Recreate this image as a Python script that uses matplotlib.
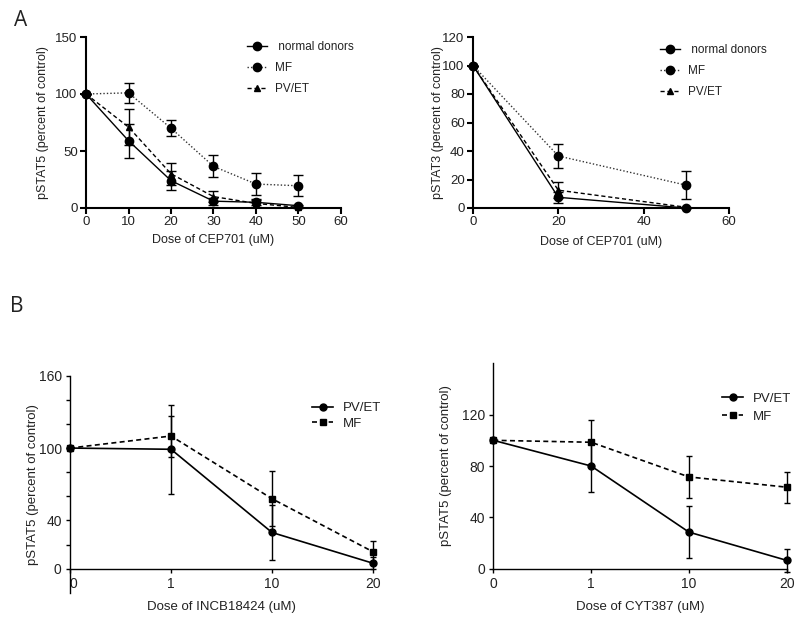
import matplotlib.pyplot as plt
from matplotlib.lines import Line2D
from matplotlib.ticker import FixedLocator

plt.rcParams['font.family'] = ['Liberation Sans', 'DejaVu Sans']

# Panel A, left: pSTAT5 vs CEP701
cep_dose_a1 = [0, 10, 20, 30, 40, 50]
nd_stat5 = [100, 59, 24, 6, 5, 2]
nd_stat5_err = [0, 15, 8.5, 3, 2.5, 1]
mf_stat5 = [100, 101, 70, 36.5, 21, 19.5]
mf_stat5_err = [0, 9, 7, 9.7, 10, 9.3]
pv_stat5 = [100, 71, 30, 10, 4, 0.5]
pv_stat5_err = [0, 16, 9.5, 5, 3, 0.5]

# Panel A, right: pSTAT3 vs CEP701
cep_dose_a2 = [0, 20, 50]
nd_stat3 = [100, 7.5, 0]
nd_stat3_err = [0, 4, 0]
mf_stat3 = [100, 36.5, 16]
mf_stat3_err = [0, 8.7, 10]
pv_stat3 = [100, 12.5, 0.5]
pv_stat3_err = [0, 5.5, 0.5]

# Panel B: categorical doses
dose_labels = ['0', '1', '10', '20']
incb_pv = [100, 99, 30, 4.5]
incb_pv_err = [0, 37, 22.5, 5]
incb_mf = [100, 110, 58, 14]
incb_mf_err = [0, 17, 23, 9]
cyt_pv = [100, 80, 28.5, 6.5]
cyt_pv_err = [0, 20, 20, 9]
cyt_mf = [100, 98.5, 71.5, 63.5]
cyt_mf_err = [0, 17.5, 16.5, 12]

fig = plt.figure(figsize=(8, 6.19), dpi=100)
txt = '#222222'
dotted = (0, (1, 1.5))
dashed = (0, (3, 2))


def fig_anchor(x, y):
    return (x / 800, 1 - y / 619)


def style_prism(ax):
    for s in ['top', 'right']:
        ax.spines[s].set_visible(False)
    for s in ['left', 'bottom']:
        ax.spines[s].set_linewidth(1.5)
    ax.tick_params(direction='out', length=4, width=1.5, labelsize=9.5, colors='black', labelcolor=txt, pad=2)


def draw_cep(ax, x, nd, nd_e, mf, mf_e, pv, pv_e):
    ax.errorbar(x, nd, yerr=nd_e, color='black', lw=1, marker='o', ms=6, capsize=3.5,
                elinewidth=1, clip_on=False, zorder=3)
    ax.errorbar(x, mf, yerr=mf_e, color='#333333', lw=1, ls=dotted, marker='o', ms=6,
                mfc='black', mec='black', ecolor='black', capsize=3.5, elinewidth=1,
                clip_on=False, zorder=3)
    ax.errorbar(x, pv, yerr=pv_e, color='black', lw=1, ls=dashed, marker='^', ms=5,
                capsize=3.5, elinewidth=1, clip_on=False, zorder=3)


def cep_legend(ax, x, y):
    handles = [
        Line2D([], [], color='black', lw=1, marker='o', ms=6),
        Line2D([], [], color='#333333', lw=1, ls=dotted, marker='o', ms=6, mfc='black', mec='black'),
        Line2D([], [], color='black', lw=1, ls=dashed, marker='^', ms=5),
    ]
    ax.legend(handles, [' normal donors', 'MF', 'PV/ET'], loc='upper left',
              bbox_to_anchor=fig_anchor(x, y), bbox_transform=fig.transFigure,
              frameon=False, fontsize=8.5, handlelength=1.7, labelspacing=0.75,
              handletextpad=0.7, borderpad=0, borderaxespad=0, labelcolor=txt)


# ---- A left
ax1 = fig.add_axes([86 / 800, 1 - 208 / 619, 255 / 800, 171 / 619])
draw_cep(ax1, cep_dose_a1, nd_stat5, nd_stat5_err, mf_stat5, mf_stat5_err, pv_stat5, pv_stat5_err)
ax1.set_xlim(0, 60)
ax1.set_ylim(0, 150)
ax1.set_xticks(range(0, 61, 10))
ax1.set_yticks([0, 50, 100, 150])
style_prism(ax1)
ax1.set_xlabel('Dose of CEP701 (uM)', fontsize=9, color=txt)
ax1.set_ylabel('pSTAT5 (percent of control)', fontsize=9, color=txt)
ax1.yaxis.set_label_coords(-0.145, 0.5)
ax1.xaxis.set_label_coords(0.5, -0.152)
cep_legend(ax1, 247, 41)

# ---- A right
ax2 = fig.add_axes([473 / 800, 1 - 208 / 619, 256 / 800, 171 / 619])
draw_cep(ax2, cep_dose_a2, nd_stat3, nd_stat3_err, mf_stat3, mf_stat3_err, pv_stat3, pv_stat3_err)
ax2.set_xlim(0, 60)
ax2.set_ylim(0, 120)
ax2.set_xticks(range(0, 61, 20))
ax2.set_yticks(range(0, 121, 20))
style_prism(ax2)
ax2.set_xlabel('Dose of CEP701 (uM)', fontsize=9, color=txt)
ax2.set_ylabel('pSTAT3 (percent of control)', fontsize=9, color=txt)
ax2.yaxis.set_label_coords(-0.113, 0.5)
ax2.xaxis.set_label_coords(0.5, -0.162)
cep_legend(ax2, 660, 44)


def draw_b(ax, pv, pv_e, mf, mf_e):
    xs = range(len(dose_labels))
    ax.errorbar(xs, pv, yerr=pv_e, color='black', lw=1.2, marker='o', ms=5, capsize=2.5,
                elinewidth=1, clip_on=False, zorder=3)
    ax.errorbar(xs, mf, yerr=mf_e, color='black', lw=1.2, ls=dashed, marker='s', ms=5,
                capsize=2.5, elinewidth=1, clip_on=False, zorder=3)
    ax.set_xlim(0, 3)
    ax.set_xticks(list(xs))
    ax.set_xticklabels(dose_labels)
    for s in ['top', 'right']:
        ax.spines[s].set_visible(False)
    for s in ['left', 'bottom']:
        ax.spines[s].set_linewidth(1)
    ax.tick_params(direction='out', length=3, width=1, labelsize=10, colors='black', labelcolor=txt, pad=3)


def b_legend(ax, x, y, spacing):
    handles = [
        Line2D([], [], color='black', lw=1.2, marker='o', ms=5),
        Line2D([], [], color='black', lw=1.2, ls=dashed, marker='s', ms=5),
    ]
    ax.legend(handles, ['PV/ET', 'MF'], loc='upper left',
              bbox_to_anchor=fig_anchor(x, y), bbox_transform=fig.transFigure,
              frameon=False, fontsize=9.5, handlelength=1.6, labelspacing=spacing,
              handletextpad=0.75, borderpad=0, borderaxespad=0, labelcolor=txt)


# ---- B left
ax3 = fig.add_axes([70 / 800, 1 - 592.8 / 619, 303 / 800, 217.1 / 619])
draw_b(ax3, incb_pv, incb_pv_err, incb_mf, incb_mf_err)
ax3.set_ylim(-20, 160)
ax3.spines['bottom'].set_position(('data', 0))
ax3.spines['left'].set_bounds(-20, 160)
ax3.yaxis.set_major_locator(FixedLocator(range(0, 161, 20)))
ax3.set_yticklabels(['0', '', '40', '', '', '100', '', '', '160'])
ax3.get_xticklabels()[0].set_horizontalalignment('left')
ax3.set_xlabel('Dose of INCB18424 (uM)', fontsize=9.5, color=txt)
ax3.set_ylabel('pSTAT5 (percent of control)', fontsize=9.5, color=txt)
ax3.yaxis.set_label_coords(-0.1007, 0.5)
ax3.xaxis.set_label_coords(0.5, -0.036)
b_legend(ax3, 312, 402, 0.27)

# ---- B right
ax4 = fig.add_axes([493.3 / 800, 1 - 568.7 / 619, 293.4 / 800, 205.4 / 619])
draw_b(ax4, cyt_pv, cyt_pv_err, cyt_mf, cyt_mf_err)
ax4.set_ylim(0, 160)
ax4.set_yticks([0, 40, 80, 120])
ax4.set_xlabel('Dose of CYT387 (uM)', fontsize=9.5, color=txt)
ax4.set_ylabel('pSTAT5 (percent of control)', fontsize=9.5, color=txt)
ax4.yaxis.set_label_coords(-0.142, 0.5)
ax4.xaxis.set_label_coords(0.5, -0.156)
b_legend(ax4, 722, 392.5, 0.42)

fig.text(14 / 800, 1 - 20 / 619, 'A', fontsize=15, color=txt, va='center', ha='left',
         family=['Open Sans', 'DejaVu Sans'])
fig.text(10 / 800, 1 - 306 / 619, 'B', fontsize=15, color=txt, va='center', ha='left',
         family=['Open Sans', 'DejaVu Sans'])

fig.savefig('out.png', dpi=100)
